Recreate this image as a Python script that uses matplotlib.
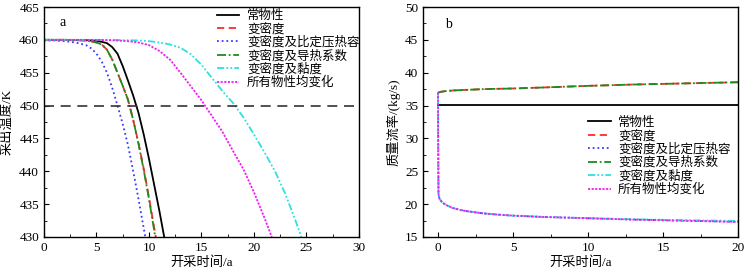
import matplotlib
matplotlib.use('Agg')
import matplotlib.pyplot as plt
from matplotlib.ticker import MultipleLocator

plt.rcParams['font.family'] = ['Liberation Serif', 'Noto Sans CJK SC']
plt.rcParams['font.size'] = 9.5
plt.rcParams['axes.unicode_minus'] = False

labels = ['常物性', '变密度', '变密度及比定压热容', '变密度及导热系数', '变密度及黏度', '所有物性均变化']
colors = ['black', '#ff2a2a', '#3a3aff', '#1f8a1f', '#2ee0e0', '#f020f0']
styles = ['-', (0, (4, 2.5)), (0, (1, 1.6)), (0, (5, 1.5, 1, 1.5)), (0, (4, 1.2, 1, 1.2, 1, 1.2)), (0, (1.2, 0.8))]

# (a) 采出温度
t_const = [0, 2, 4, 5, 5.5, 6, 6.5, 7, 7.5, 8, 8.5, 9, 9.5, 10, 10.5, 11, 11.45]
T_const = [460, 460, 459.95, 459.85, 459.7, 459.5, 458.9, 457.9, 456.0, 453.8, 451.5, 448.9, 445.6, 441.9, 437.9, 433.9, 430]
t_rho = [0, 2, 4, 5, 5.5, 6, 6.5, 7, 7.5, 8, 8.5, 9, 9.5, 10, 10.65]
T_rho = [460, 460, 459.9, 459.6, 459.3, 458.5, 457.0, 455.0, 453.0, 450.9, 447.8, 444.3, 440.4, 436.0, 430.0]
t_cp = [0, 1, 2, 3, 4, 4.5, 5, 5.5, 6, 6.5, 7, 7.5, 8, 8.5, 9, 9.65]
T_cp = [459.9, 459.9, 459.8, 459.6, 459.2, 458.7, 457.9, 456.7, 455.0, 452.7, 450.0, 447.2, 444.0, 440.0, 435.8, 430]
t_k = [0, 2, 4, 5, 5.5, 6, 6.5, 7, 7.5, 8, 8.5, 9, 9.5, 10, 10.6]
T_k = [460, 460, 459.9, 459.6, 459.3, 458.5, 457.0, 455.0, 453.0, 450.9, 447.8, 444.2, 440.2, 435.8, 430.0]
t_mu = [0, 4, 6, 8, 9, 10, 11, 12, 13, 14, 15, 16, 17, 18, 19, 20, 21, 22, 23, 24, 24.5]
T_mu = [460, 460, 460, 459.95, 459.9, 459.8, 459.6, 459.3, 458.8, 457.8, 456.2, 454.2, 452.2, 450.4, 448.2, 445.6, 442.9, 440.0, 436.5, 432.3, 430]
t_all = [0, 3, 5, 6, 7, 8, 9, 10, 11, 12, 13, 14, 15, 16, 17, 18, 19, 20, 21, 21.7]
T_all = [460, 460, 460, 459.95, 459.9, 459.8, 459.6, 459.2, 458.3, 457.0, 455.0, 452.9, 450.8, 448.4, 446.0, 443.1, 440.3, 436.8, 432.9, 430]
T_limit = 450

# (b) 质量流率
t_flow_const = [0, 20]
m_const = [35.1, 35.1]
t_up = [0, 0.05, 0.2, 0.5, 1, 2, 3, 5, 7, 10, 13, 16, 20]
m_up = [36.9, 37.0, 37.1, 37.2, 37.3, 37.4, 37.5, 37.6, 37.75, 38.0, 38.2, 38.35, 38.55]
t_low = [0, 0.01, 0.03, 0.1, 0.3, 0.6, 1, 1.5, 2, 3, 4, 5, 7, 10, 13, 16, 20]
m_low = [37.0, 30.0, 21.5, 20.8, 20.2, 19.8, 19.4, 19.1, 18.9, 18.6, 18.4, 18.25, 18.05, 17.85, 17.65, 17.5, 17.3]
m_low_mu = [37.0, 30.0, 21.5, 20.8, 20.2, 19.8, 19.4, 19.1, 18.9, 18.6, 18.4, 18.25, 18.05, 17.87, 17.7, 17.57, 17.45]

fig = plt.figure(figsize=(7.49, 2.8), dpi=100)
ax1 = fig.add_axes([0.0587, 0.1536, 0.4206, 0.8214])
ax2 = fig.add_axes([0.5648, 0.1536, 0.4206, 0.8214])

series_a = [(t_const, T_const), (t_rho, T_rho), (t_cp, T_cp), (t_k, T_k), (t_mu, T_mu), (t_all, T_all)]
for (x, y), lab, c, ls in zip(series_a, labels, colors, styles):
    ax1.plot(x, y, color=c, linestyle=ls, linewidth=1.3, label=lab)
ax1.axhline(T_limit, color='#333333', linestyle=(0, (6, 4)), linewidth=1.2)
ax1.set_xlim(0, 30)
ax1.set_ylim(430, 465)
ax1.xaxis.set_major_locator(MultipleLocator(5))
ax1.xaxis.set_minor_locator(MultipleLocator(2.5))
ax1.yaxis.set_major_locator(MultipleLocator(5))
ax1.yaxis.set_minor_locator(MultipleLocator(2.5))
ax1.set_xlabel('开采时间/a', labelpad=2)
ax1.set_ylabel('采出温度/K', labelpad=4)
ax1.text(1.5, 462.7, 'a', fontsize=10, va='center')
ax1.legend(loc='upper left', bbox_to_anchor=(0.525, 1.02), frameon=False, fontsize=9,
           handlelength=1.8, handletextpad=0.6, labelspacing=0.08, borderaxespad=0.2)

series_b = [(t_flow_const, m_const), (t_up, m_up), (t_low, m_low), (t_up, m_up), (t_low, m_low_mu), (t_low, m_low)]
for (x, y), lab, c, ls in zip(series_b, labels, colors, styles):
    ax2.plot(x, y, color=c, linestyle=ls, linewidth=1.3, label=lab)
ax2.set_xlim(-1, 20)
ax2.set_ylim(15, 50)
ax2.xaxis.set_major_locator(MultipleLocator(5))
ax2.xaxis.set_minor_locator(MultipleLocator(2.5))
ax2.yaxis.set_major_locator(MultipleLocator(5))
ax2.yaxis.set_minor_locator(MultipleLocator(2.5))
ax2.set_xlabel('开采时间/a', labelpad=2)
ax2.set_ylabel('质量流率/(kg/s)', labelpad=3)
ax2.text(0.5, 47.4, 'b', fontsize=10, va='center')
ax2.legend(loc='upper left', bbox_to_anchor=(0.5, 0.555), frameon=False, fontsize=9,
           handlelength=1.8, handletextpad=0.6, labelspacing=0.08, borderaxespad=0.2)

for ax in (ax1, ax2):
    ax.tick_params(which='both', direction='in', top=False, right=False, labelsize=9.5)
    ax.tick_params(which='major', length=3.5)
    ax.tick_params(which='minor', length=2)
    for sp in ax.spines.values():
        sp.set_linewidth(1.0)

fig.savefig('out.png', dpi=100, facecolor='white')
